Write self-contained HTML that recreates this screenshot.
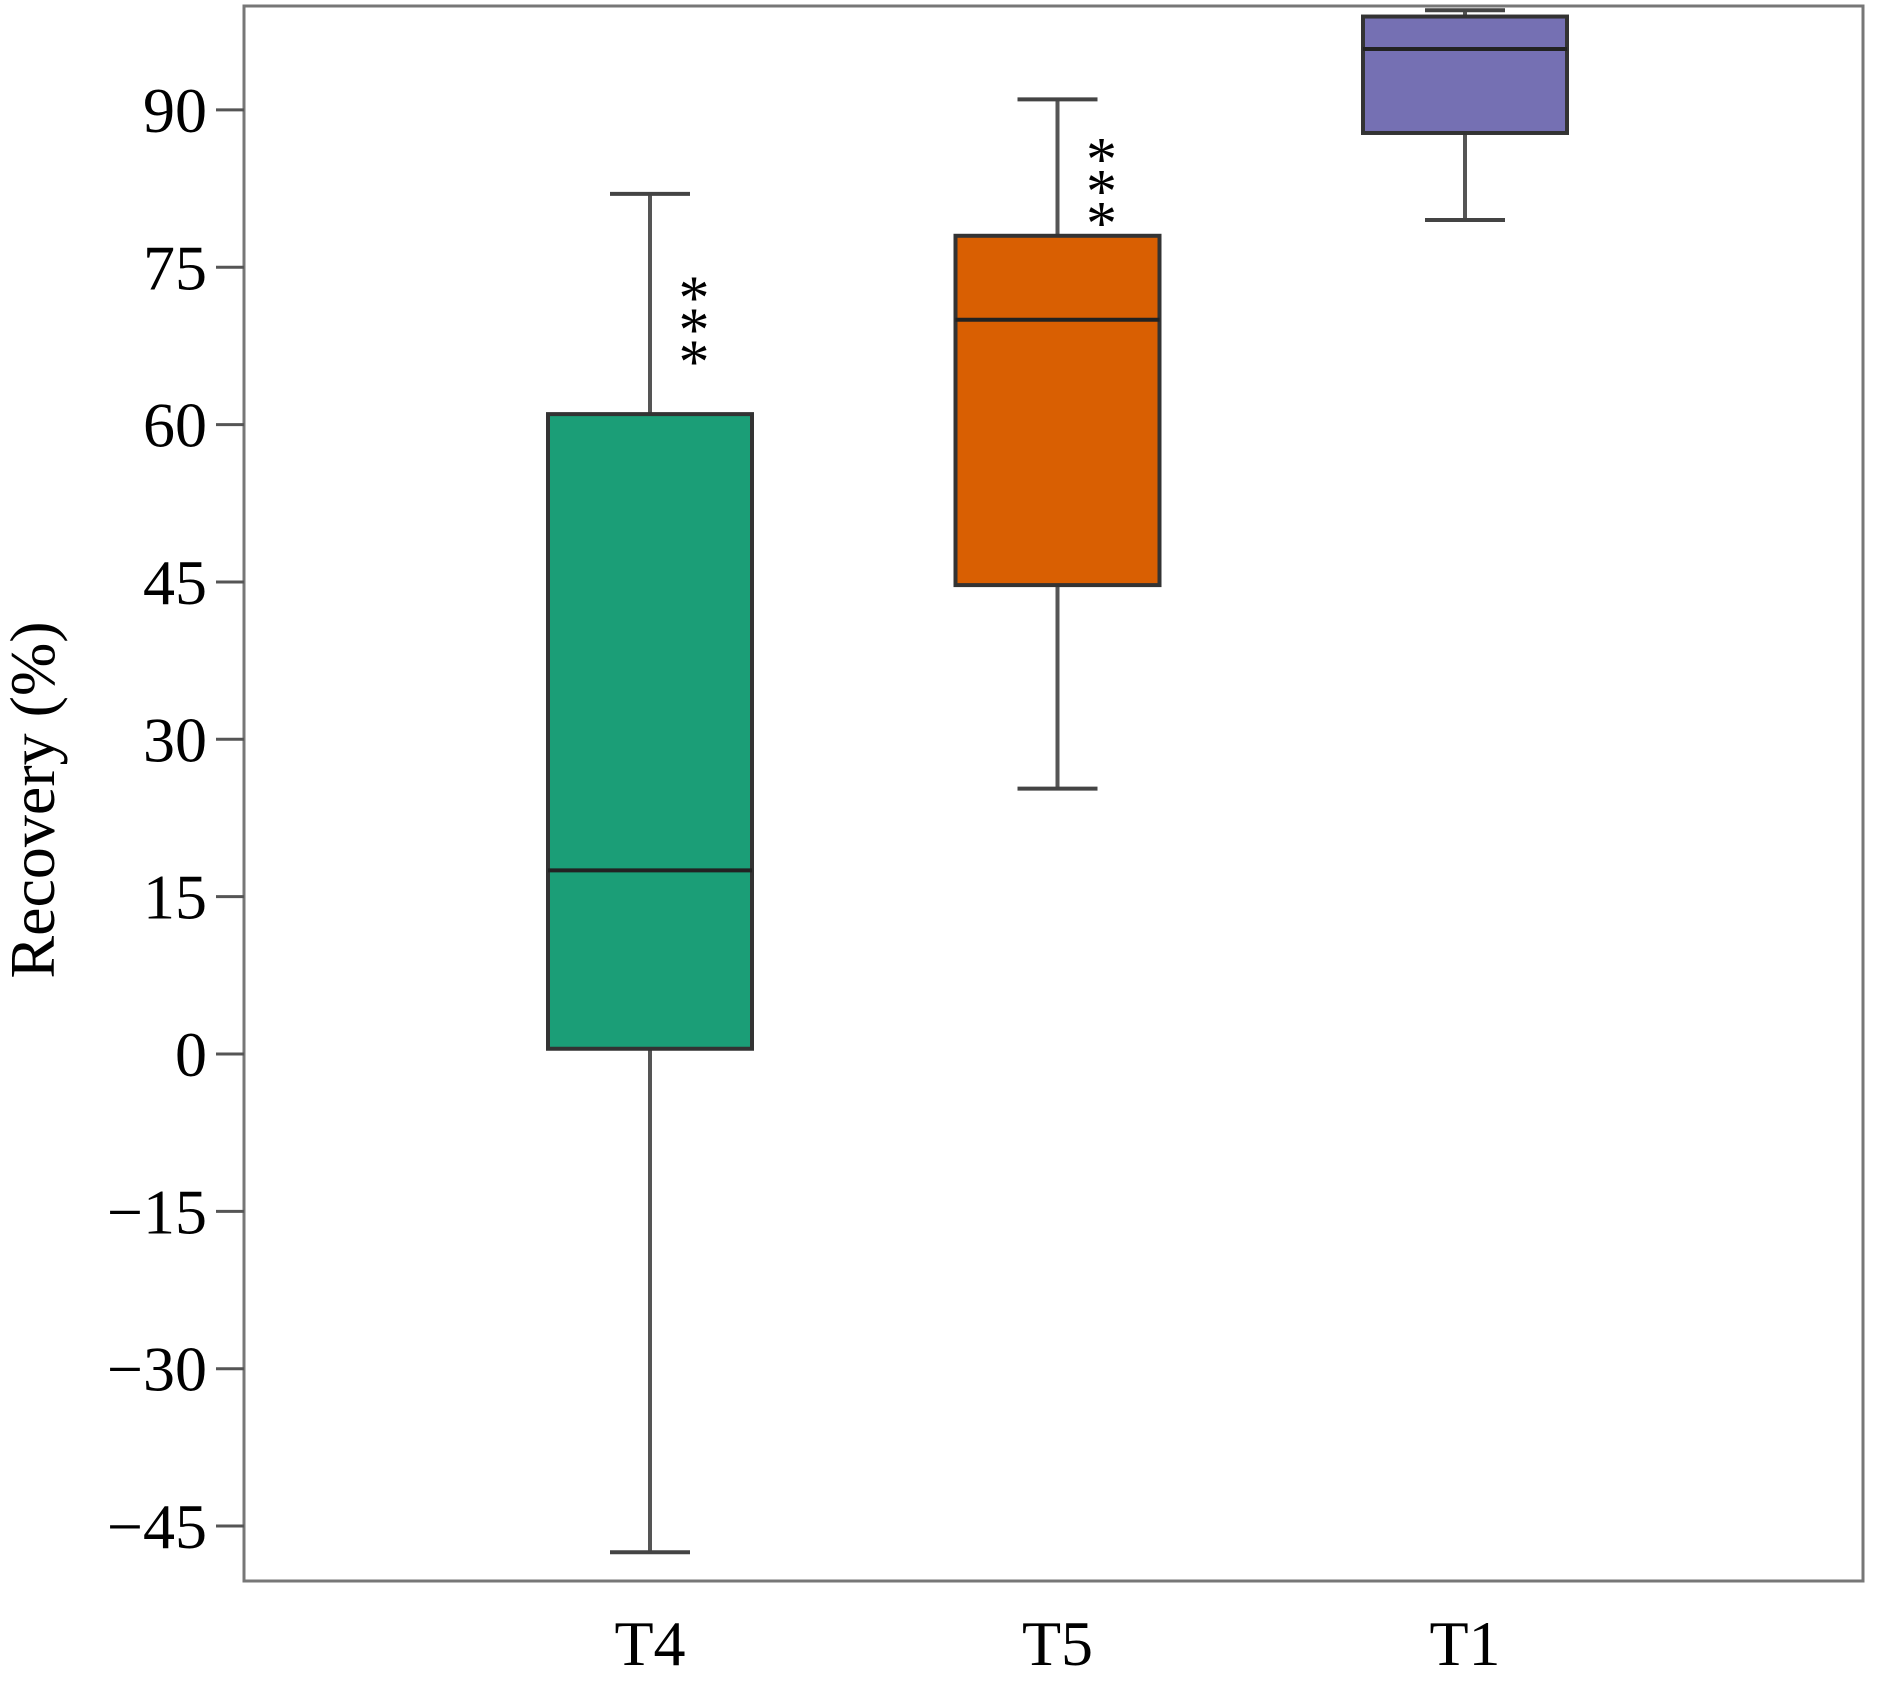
<!DOCTYPE html>
<html><head><meta charset="utf-8"><style>
html,body{margin:0;padding:0;background:#fff;}
svg{display:block;font-family:"Liberation Serif",serif;}
</style></head><body>
<svg id="chart" width="1885" height="1681" viewBox="0 0 1885 1681">
<rect x="244" y="6" width="1619" height="1575" fill="#fff" stroke="#777" stroke-width="3"/>
<g id="yaxis"></g>
<g id="boxes"></g>
<text x="54" y="800" font-size="64" text-anchor="middle" transform="rotate(-90 54 800)">Recovery (%)</text>
</svg>
<script>
const categories = ["T4","T5","T1"];
const lowWhisker = [-47.5, 25.3, 79.5];
const q1 = [0.5, 44.7, 87.8];
const median = [17.5, 70, 95.8];
const q3 = [61, 78, 98.9];
const highWhisker = [82, 91, 99.5];
const colors = ["#1b9e77","#d95f02","#7570b3"];
const stars = ["***","***",""];
const starBase = [66.7, 79.9, null];
const yTicks = [-45,-30,-15,0,15,30,45,60,75,90];
const yTickLabels = ["\u221245","\u221230","\u221215","0","15","30","45","60","75","90"];

const NS="http://www.w3.org/2000/svg";
function y(v){return 1054 - v*10.49;}
function x(i){return 650 + i*407.5;}
function mk(tag,attrs,parent){const e=document.createElementNS(NS,tag);for(const k in attrs)e.setAttribute(k,attrs[k]);parent.appendChild(e);return e;}
const ya=document.getElementById('yaxis');
yTicks.forEach((t,i)=>{
  const l=mk('line',{x1:216,x2:244,y1:y(t),y2:y(t),stroke:'#555','stroke-width':3},ya);
  
  
  const tx=mk('text',{x:207,y:y(t)+22,'font-size':64,'text-anchor':'end'},ya);
  tx.textContent=yTickLabels[i];
  
  
});
const bg=document.getElementById('boxes');
categories.forEach((c,i)=>{
  const cx=x(i), hw=102, cap=40;
  const g=mk('g',{},bg);
  
  
  mk('line',{x1:cx,x2:cx,y1:y(highWhisker[i]),y2:y(q3[i]),stroke:'#555','stroke-width':4},g);
  mk('line',{x1:cx,x2:cx,y1:y(q1[i]),y2:y(lowWhisker[i]),stroke:'#555','stroke-width':4},g);
  mk('line',{x1:cx-cap,x2:cx+cap,y1:y(highWhisker[i]),y2:y(highWhisker[i]),stroke:'#444','stroke-width':4},g);
  mk('line',{x1:cx-cap,x2:cx+cap,y1:y(lowWhisker[i]),y2:y(lowWhisker[i]),stroke:'#444','stroke-width':4},g);
  mk('rect',{x:cx-hw,y:y(q3[i]),width:2*hw,height:y(q1[i])-y(q3[i]),fill:colors[i],stroke:'#333','stroke-width':4},g);
  mk('line',{x1:cx-hw,x2:cx+hw,y1:y(median[i]),y2:y(median[i]),stroke:'#222','stroke-width':4},g);
  const lab=mk('text',{x:cx,y:1665,'font-size':64,'text-anchor':'middle'},bg);
  lab.textContent=c;
  
  
  if(stars[i]){
    const sg=mk('g',{},bg);
    
    
    const bottom=y(starBase[i]);
    for(let k=0;k<3;k++){
      const s=mk('text',{x:cx+44,y:bottom+28-k*32,'font-size':62,'text-anchor':'middle'},sg);
      s.textContent='*';
    }
  }
});
</script>
</body></html>
